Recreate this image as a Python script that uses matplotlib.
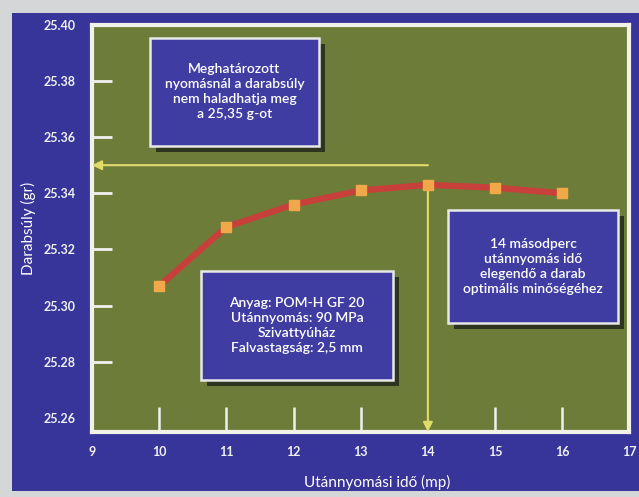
import matplotlib.pyplot as plt
from matplotlib.patches import Rectangle

# data
hold_time = [10, 11, 12, 13, 14, 15, 16]
part_weight = [25.307, 25.328, 25.336, 25.341, 25.343, 25.342, 25.340]
x_ticks = [9, 10, 11, 12, 13, 14, 15, 16, 17]
x_marks = [10, 11, 12, 13, 15, 16]
y_ticks = [25.26, 25.28, 25.30, 25.32, 25.34, 25.36, 25.38, 25.40]
y_marks = [25.28, 25.30, 25.32, 25.34, 25.36, 25.38]
limit_weight = 25.35
optimum_time = 14

note_limit = "Meghatározott\nnyomásnál a darabsúly\nnem haladhatja meg\na 25,35 g-ot"
note_material = "Anyag: POM-H GF 20\nUtánnyomás: 90 MPa\nSzivattyúház\nFalvastagság: 2,5 mm"
note_time = "14 másodperc\nutánnyomás idő\nelegendő a darab\noptimális minőségéhez"

panel_blue = "#37349a"
box_blue = "#3f3ca2"
olive = "#6e7c3a"
yellow = "#e0dc6a"
tick_white = "#f0f0f0"
font = ["Lato", "DejaVu Sans"]

fig = plt.figure(figsize=(6.39, 4.97), dpi=100)
fig.patch.set_facecolor("#d4d6d8")
fig.patches.append(Rectangle((12 / 639, 6 / 497), 627 / 639, 478 / 497,
                             transform=fig.transFigure, facecolor=panel_blue,
                             edgecolor="none", zorder=-10))

ax = fig.add_axes([0.144, 0.131, 0.841, 0.819])
ax.set_facecolor(olive)
for s in ax.spines.values():
    s.set_color("#f2f2e8")
    s.set_linewidth(3)

x_lo, x_hi = 9, 17
ax.set_xlim(x_lo, x_hi)
ax.set_ylim(25.255, 25.40)
# labels on the major ticks, visible marks on the minor ones
ax.xaxis.remove_overlapping_locs = False
ax.set_xticks(x_ticks)
ax.set_yticks(y_ticks)
ax.set_xticks(x_marks, minor=True)
ax.set_xticklabels([str(t) for t in x_ticks])
ax.set_yticklabels([f"{t:.2f}" for t in y_ticks])
ax.tick_params(which="major", length=0, colors=tick_white, labelsize=9)
ax.tick_params(axis="x", which="minor", direction="in", color=tick_white,
               width=1.8, length=18)
ax.tick_params(axis="x", which="major", pad=10)
ax.tick_params(axis="y", which="major", pad=12)
for lab in ax.get_xticklabels() + ax.get_yticklabels():
    lab.set_family(font)
    lab.set_weight("bold")
# short inward marks on the left spine
for y in y_marks:
    ax.plot([x_lo, x_lo + 0.3], [y, y], color=tick_white, lw=2,
            solid_capstyle="butt", zorder=2.6, clip_on=False)

ax.set_xlabel("Utánnyomási idő (mp)", color="white", fontsize=11, family=font)
ax.xaxis.set_label_coords(0.53, -0.105)
ax.xaxis.label.set_va("top")
ax.set_ylabel("Darabsúly (gr)", color="white", fontsize=11, family=font)
ax.yaxis.set_label_coords(-0.105, 0.5)

# limit and optimum arrows
ax.annotate("", xy=(x_lo, limit_weight), xytext=(optimum_time, limit_weight),
            arrowprops=dict(arrowstyle="-|>", color=yellow, lw=1.5,
                            mutation_scale=14, shrinkA=0, shrinkB=0))
ax.annotate("", xy=(optimum_time, 25.255),
            xytext=(optimum_time, part_weight[hold_time.index(optimum_time)]),
            arrowprops=dict(arrowstyle="-|>", color=yellow, lw=1.5,
                            mutation_scale=14, shrinkA=0, shrinkB=0))

ax.plot(hold_time, part_weight, color="#c8403a", lw=4.5, zorder=3,
        solid_capstyle="round", solid_joinstyle="round")
ax.plot(hold_time, part_weight, ls="none", marker="s", ms=6.5,
        color="#f0a848", zorder=4)


def note(x0, y0, x1, y1, text):
    ax.add_patch(Rectangle((x0 + 0.011, y0 - 0.015), x1 - x0, y1 - y0,
                           transform=ax.transAxes, facecolor="#1e2418",
                           edgecolor="none", alpha=0.8, zorder=5))
    ax.add_patch(Rectangle((x0, y0), x1 - x0, y1 - y0, transform=ax.transAxes,
                           facecolor=box_blue, edgecolor="#e8e8e8", lw=1.8,
                           zorder=6))
    ax.text((x0 + x1) / 2, (y0 + y1) / 2, text, transform=ax.transAxes,
            ha="center", va="center", color="white", fontsize=10,
            family=font, weight="semibold", linespacing=1.3, zorder=7)


note(0.108, 0.703, 0.422, 0.968, note_limit)
note(0.203, 0.128, 0.560, 0.396, note_material)
note(0.662, 0.268, 0.979, 0.545, note_time)

fig.savefig("out.png", dpi=100, facecolor=fig.get_facecolor())
